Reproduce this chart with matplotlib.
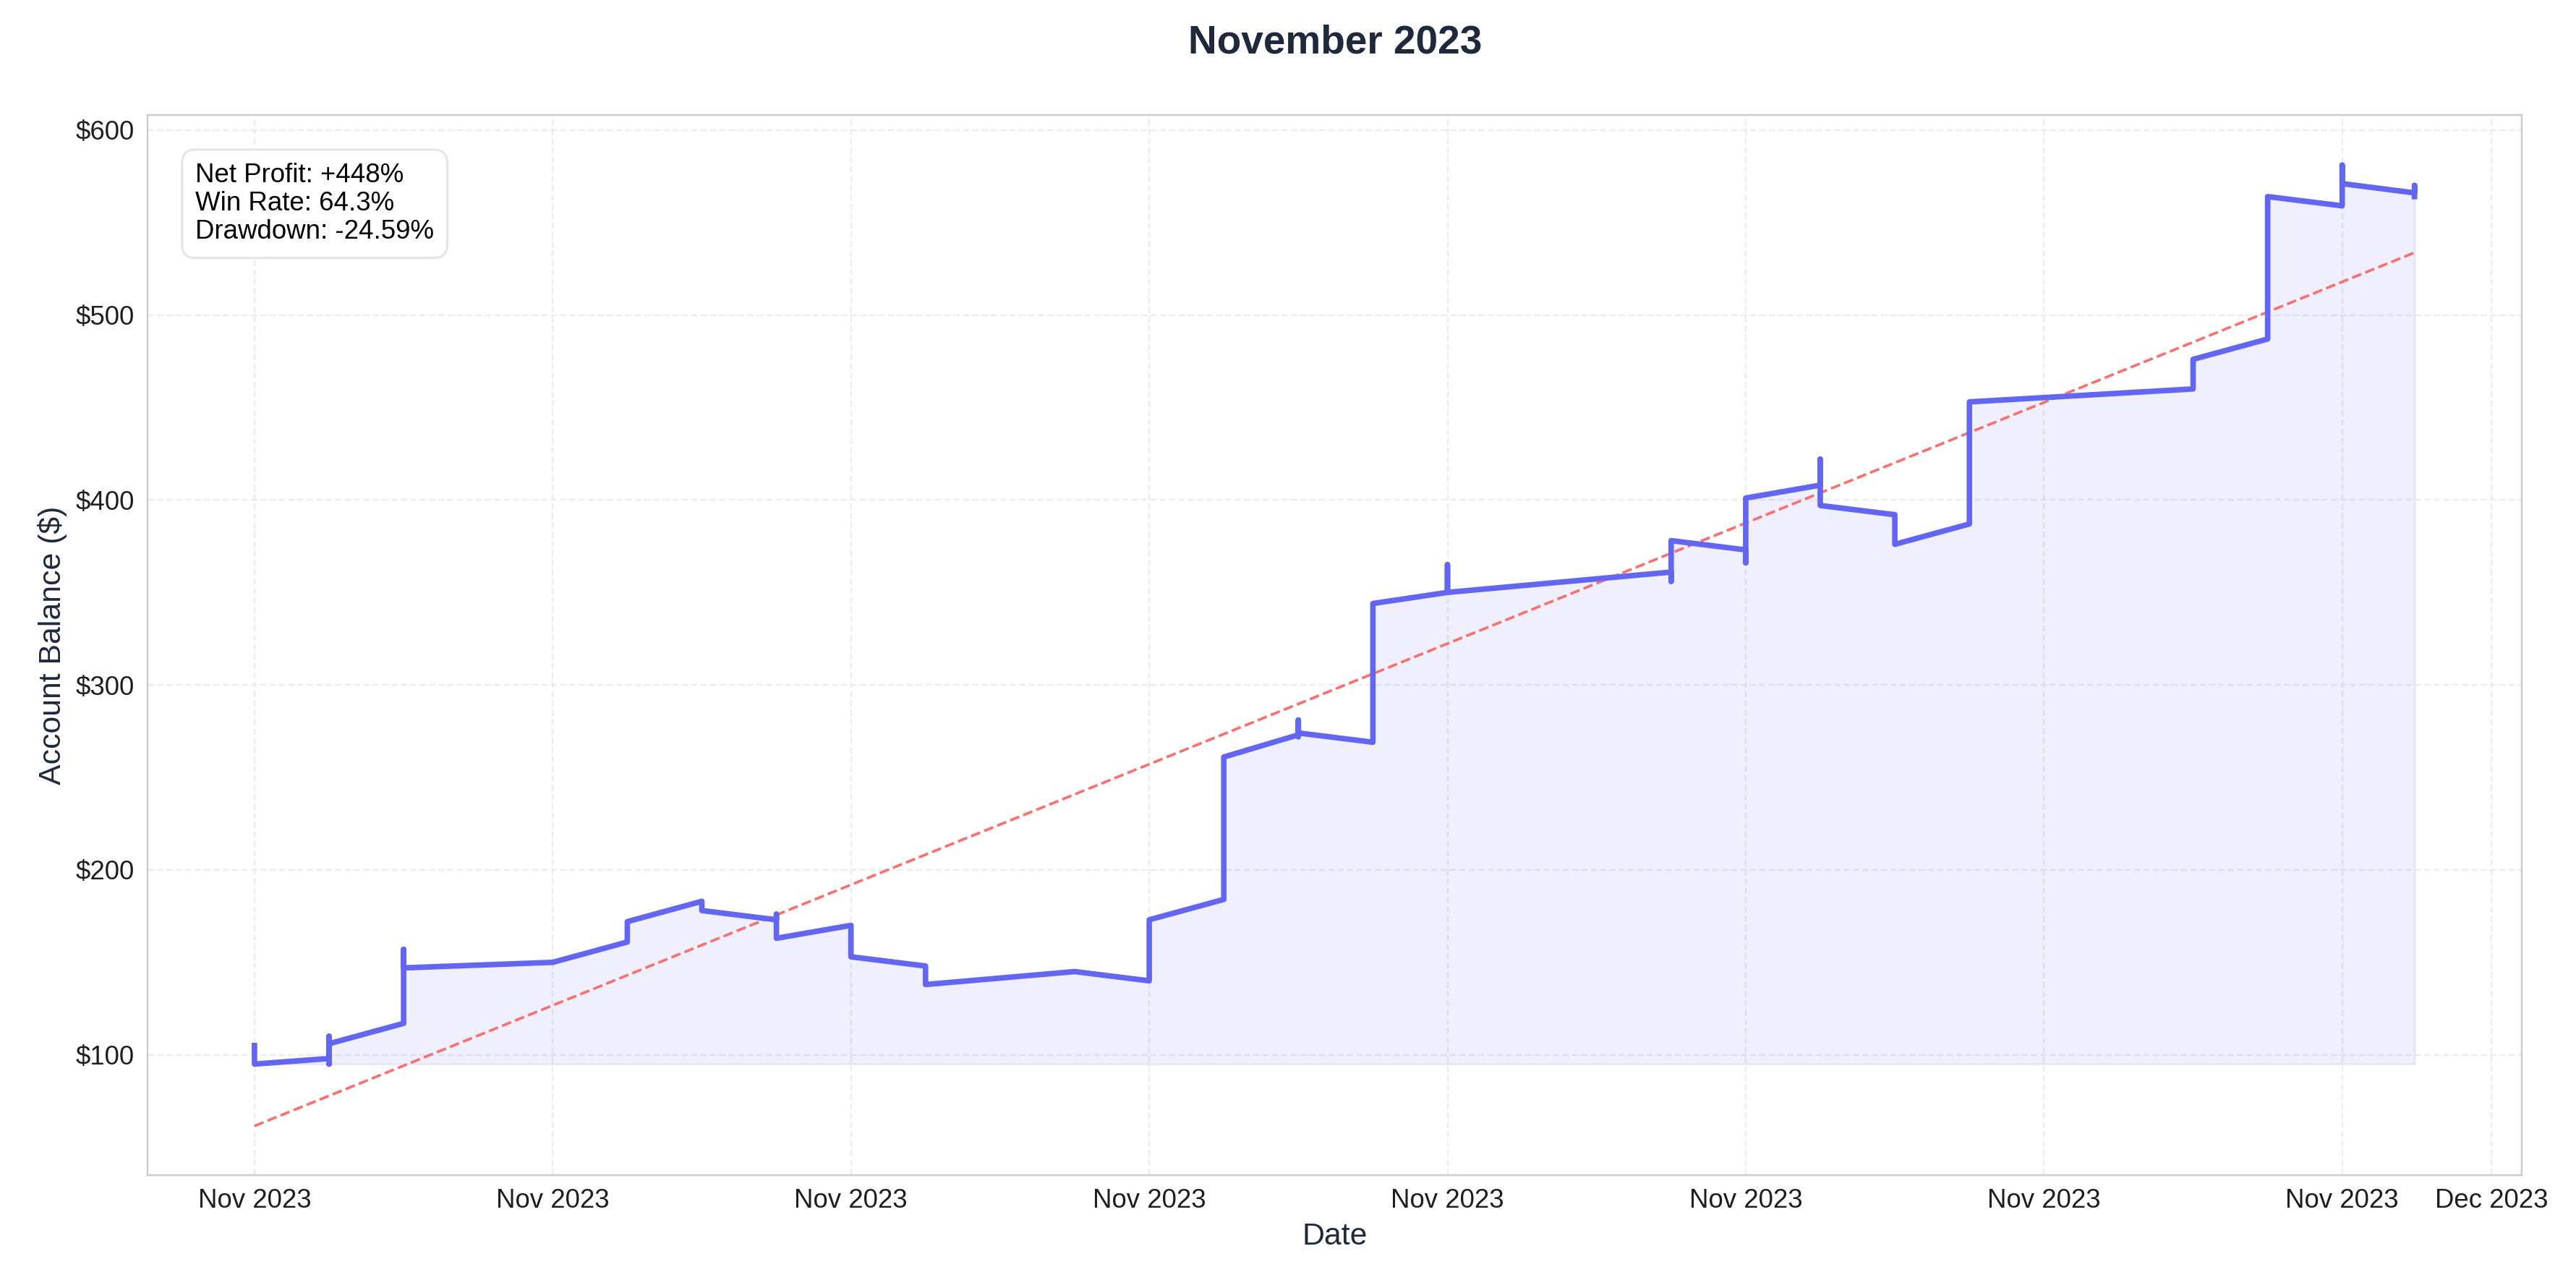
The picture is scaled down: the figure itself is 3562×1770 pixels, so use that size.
import matplotlib
matplotlib.use("Agg")
import matplotlib.pyplot as plt
import matplotlib.dates as mdates
import numpy as np
import datetime as dt

days = [0,0,1,1,1,1,2,2,2,4,5,5,6,6,7,7,7,8,8,9,9,11,12,12,13,13,14,14,14,14,15,15,16,16,16,19,19,19,20,20,20,21,21,21,22,22,23,23,26,26,27,27,28,28,28,28.97,28.97,28.97]
balance = [105,95,98,110,95,106,117,157,147,150,161,172,183,178,173,176,163,170,153,148,138,145,140,173,184,261,273,281,272,274,269,344,350,365,350,361,356,378,373,366,401,408,422,397,392,376,387,453,460,476,487,564,559,581,571,566,570,564]
stats = ["Net Profit: +448%", "Win Rate: 64.3%", "Drawdown: -24.59%"]

start = dt.datetime(2023, 11, 1)
times = [start + dt.timedelta(days=d) for d in days]
tnum = mdates.date2num(times)

plt.rcParams['font.family'] = ['Arial', 'Liberation Sans', 'DejaVu Sans']
fig = plt.figure(figsize=(3562/220, 1770/220), dpi=220)
ax = fig.add_axes([0.0574, 0.082, 0.9216, 0.828])

ax.plot(times, balance, color='#6366f1', lw=2.5, zorder=3)
ax.fill_between(times, balance, min(balance), color='#6366f1', alpha=0.1, zorder=2)
c = np.polyfit(tnum, balance, 1)
ax.plot(times, np.polyval(c, tnum), color='#f87171', ls='--', lw=1.2, zorder=2)

ax.set_xlim(start + dt.timedelta(days=-1.43), start + dt.timedelta(days=30.41))
ax.set_ylim(35, 608)
ax.xaxis.set_major_locator(mdates.DayLocator(bymonthday=[1,5,9,13,17,21,25,29]))
ax.xaxis.set_major_formatter(mdates.DateFormatter('%b %Y'))
ax.yaxis.set_major_locator(matplotlib.ticker.MultipleLocator(100))
ax.yaxis.set_major_formatter(matplotlib.ticker.FuncFormatter(lambda v, p: f"${v:.0f}"))
ax.tick_params(labelsize=12, length=0, pad=6, colors='#1e1e1e')
ax.grid(True, ls='--', color='#e2e8f0', alpha=0.7, lw=0.8)
for s in ax.spines.values():
    s.set_color('#cccccc')
ax.set_xlabel('Date', fontsize=14, color='#1e293b', labelpad=4)
ax.set_ylabel('Account Balance ($)', fontsize=14, color='#1e293b')
ax.set_title('November 2023', fontsize=18, fontweight='bold', color='#1e293b', pad=28)
ax.text(0.02, 0.955, "\n".join(stats), transform=ax.transAxes, va='top', ha='left', fontsize=12,
        linespacing=1.15,
        bbox=dict(boxstyle='round,pad=0.5', fc='white', ec='#dfe3ea', alpha=0.9))
fig.savefig('out.png', dpi=220)
